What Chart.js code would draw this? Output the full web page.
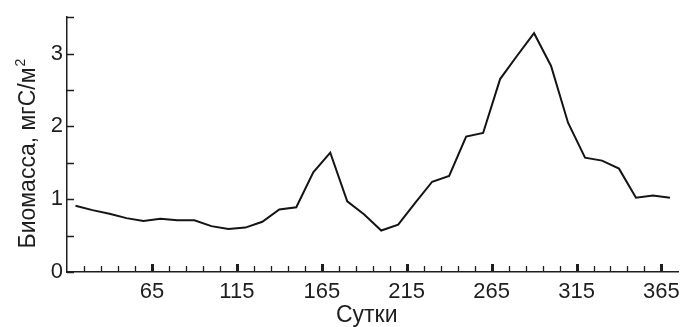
<!DOCTYPE html>
<html>
<head>
<meta charset="utf-8">
<script src="https://cdn.jsdelivr.net/npm/chart.js@4"></script>
<style>
  body { margin: 0; background: #fff; }
  canvas { display: block; }
</style>
</head>
<body>
<canvas id="myChart" width="687" height="327"></canvas>
<script>
const days = [20, 30, 40, 50, 60, 70, 80, 90, 100, 110, 120, 130, 140, 150, 160, 170, 180, 190,
  200, 210, 220, 230, 240, 250, 260, 270, 280, 290, 300, 310, 320, 330, 340, 350, 360, 370];
const biomass = [0.91, 0.85, 0.80, 0.74, 0.70, 0.73, 0.71, 0.71, 0.63, 0.59, 0.61, 0.69, 0.86, 0.89, 1.37, 1.64, 0.97, 0.79,
  0.57, 0.65, 0.95, 1.24, 1.32, 1.86, 1.91, 2.65, 2.97, 3.28, 2.83, 2.05, 1.57, 1.53, 1.42, 1.02, 1.05, 1.02];

const xTicks = [25, 35, 45, 55, 65, 75, 85, 95, 105, 115, 125, 135, 145, 155, 165, 175, 185, 195,
  205, 215, 225, 235, 245, 255, 265, 275, 285, 295, 305, 315, 325, 335, 345, 355, 365];
const xLabels = [65, 115, 165, 215, 265, 315, 365];
const yTicks = [0, 0.5, 1, 1.5, 2, 2.5, 3, 3.5];
const yLabels = [0, 1, 2, 3];
const xTitle = 'Сутки';
const yTitle = 'Биомасса, мгС/м';
const yTitleSup = '2';

const ink = '#1e1e1e';
const family = "'Liberation Sans', Arial, sans-serif";
const font = { family, size: 22 };

// tick marks point inward and the titles need a superscript, so draw them here
const axisExtras = {
  id: 'axisExtras',
  afterDraw(chart) {
    const { ctx, chartArea, scales: { x, y } } = chart;
    ctx.save();
    ctx.strokeStyle = ink;
    xTicks.forEach(v => {
      const px = Math.round(x.getPixelForValue(v)) + 0.5;
      const major = xLabels.includes(v);
      ctx.lineWidth = major ? 3 : 1.3;
      ctx.beginPath();
      ctx.moveTo(px, chartArea.bottom);
      ctx.lineTo(px, chartArea.bottom - (major ? 8 : 6));
      ctx.stroke();
    });
    ctx.lineWidth = 1.5;
    yTicks.forEach(v => {
      const py = Math.round(y.getPixelForValue(v)) + 0.5;
      ctx.beginPath();
      ctx.moveTo(chartArea.left, py);
      ctx.lineTo(chartArea.left + 7, py);
      ctx.stroke();
    });

    ctx.fillStyle = ink;
    ctx.textBaseline = 'alphabetic';

    // x title
    ctx.font = `23px ${family}`;
    ctx.textAlign = 'center';
    ctx.fillText(xTitle, (chartArea.left + chartArea.right) / 2 - 6, 321.5);

    // y title, rotated, with raised "2"
    ctx.font = `23px ${family}`;
    const mainW = ctx.measureText(yTitle).width;
    ctx.font = `14px ${family}`;
    const supW = ctx.measureText(yTitleSup).width;
    const total = mainW + supW + 1;
    const cy = (chartArea.top + chartArea.bottom) / 2 + 9;
    ctx.translate(chartArea.left - 32, cy + total / 2);
    ctx.rotate(-Math.PI / 2);
    ctx.textAlign = 'left';
    ctx.font = `23px ${family}`;
    ctx.fillText(yTitle, 0, 0);
    ctx.font = `14px ${family}`;
    ctx.fillText(yTitleSup, mainW + 1, -10);
    ctx.restore();
  }
};

new Chart(document.getElementById('myChart').getContext('2d'), {
  type: 'line',
  data: {
    datasets: [{
      data: days.map((d, i) => ({ x: d, y: biomass[i] })),
      borderColor: '#141414',
      borderWidth: 2,
      pointRadius: 0,
      tension: 0,
    }],
  },
  options: {
    responsive: false,
    animation: false,
    layout: { padding: { top: 14, right: 7, left: 0, bottom: 0 } },
    plugins: { legend: { display: false }, tooltip: { enabled: false } },
    scales: {
      x: {
        type: 'linear',
        min: 15,
        max: 375,
        afterBuildTicks: s => { s.ticks = xTicks.map(v => ({ value: v })); },
        afterFit: s => { s.height = 55; },
        grid: { display: false, drawTicks: false },
        border: { display: true, color: ink, width: 1.5 },
        ticks: {
          autoSkip: false,
          maxRotation: 0,
          padding: 7,
          color: ink,
          font,
          callback: v => (xLabels.includes(v) ? String(v) : ''),
        },
      },
      y: {
        min: 0,
        max: 3.5,
        afterBuildTicks: s => { s.ticks = yTicks.map(v => ({ value: v })); },
        afterFit: s => { s.width = 67; },
        grid: { display: false, drawTicks: false },
        border: { display: true, color: ink, width: 1.5 },
        ticks: {
          padding: 4,
          color: ink,
          font,
          callback: v => (yLabels.includes(v) ? String(v) : ''),
        },
      },
    },
  },
  plugins: [axisExtras],
});
</script>
</body>
</html>
